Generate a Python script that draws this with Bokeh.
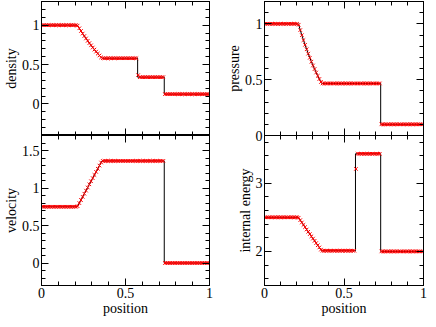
from bokeh.plotting import figure
from bokeh.layouts import row, column
from bokeh.models import Range1d, LinearAxis, SingleIntervalTicker, CustomJSTickFormatter
from bokeh.embed import file_html
from bokeh.resources import INLINE

# ---- data ----
cell_x = [0.005, 0.015, 0.025, 0.035, 0.045, 0.055, 0.065, 0.075, 0.085, 0.095,
          0.105, 0.115, 0.125, 0.135, 0.145, 0.155, 0.165, 0.175, 0.185, 0.195,
          0.205, 0.215, 0.225, 0.235, 0.245, 0.255, 0.265, 0.275, 0.285, 0.295,
          0.305, 0.315, 0.325, 0.335, 0.345, 0.355, 0.365, 0.375, 0.385, 0.395,
          0.405, 0.415, 0.425, 0.435, 0.445, 0.455, 0.465, 0.475, 0.485, 0.495,
          0.505, 0.515, 0.525, 0.535, 0.545, 0.555, 0.565, 0.575, 0.585, 0.595,
          0.605, 0.615, 0.625, 0.635, 0.645, 0.655, 0.665, 0.675, 0.685, 0.695,
          0.705, 0.715, 0.725, 0.735, 0.745, 0.755, 0.765, 0.775, 0.785, 0.795,
          0.805, 0.815, 0.825, 0.835, 0.845, 0.855, 0.865, 0.875, 0.885, 0.895,
          0.905, 0.915, 0.925, 0.935, 0.945, 0.955, 0.965, 0.975, 0.985, 0.995]

fan_density = [0.994, 0.960, 0.926, 0.893, 0.862, 0.831, 0.801, 0.772, 0.744, 0.716,
               0.690, 0.664, 0.639, 0.615, 0.591]
fan_velocity = [0.757, 0.799, 0.840, 0.882, 0.924, 0.965, 1.007, 1.049, 1.090, 1.132,
                1.174, 1.215, 1.257, 1.299, 1.340]
fan_pressure = [0.992, 0.944, 0.898, 0.854, 0.812, 0.772, 0.733, 0.696, 0.661, 0.627,
                0.595, 0.564, 0.534, 0.506, 0.479]
fan_energy = [2.494, 2.459, 2.424, 2.389, 2.356, 2.321, 2.288, 2.254, 2.221, 2.188,
              2.155, 2.122, 2.090, 2.058, 2.026]
fan_x = cell_x[21:36]

# numerical (red crosses), one value per cell
density = [1.0] * 21 + fan_density + [0.580] * 21 + [0.365] + [0.340] * 15 + [0.125] * 27
velocity = [0.75] * 21 + fan_velocity + [1.361] * 37 + [0.0] * 27
pressure = [1.0] * 21 + fan_pressure + [0.466] * 37 + [0.1] * 27
energy = [2.5] * 21 + fan_energy + [2.010] * 21 + [3.21] + [3.432] * 15 + [2.0] * 27

# exact solution (black line)
exact_x = [0.0, 0.2134] + fan_x + [0.3600, 0.5722, 0.5722, 0.7307, 0.7307, 1.0]
density_exact = [1.0, 1.0] + fan_density + [0.580, 0.580, 0.340, 0.340, 0.125, 0.125]
velocity_exact = [0.75, 0.75] + fan_velocity + [1.361, 1.361, 1.361, 1.361, 0.0, 0.0]
pressure_exact = [1.0, 1.0] + fan_pressure + [0.466, 0.466, 0.466, 0.466, 0.1, 0.1]
energy_exact = [2.5, 2.5] + fan_energy + [2.010, 2.010, 3.432, 3.432, 2.0, 2.0]

x_title = "position"
FONT = "Liberation Serif"
TICK_SIZE = "14px"
LABEL_SIZE = "14px"
PLAIN = "return String(Number(tick.toFixed(3)))"

OVERLAP = 8  # room below the pressure panel for its "0" label, covered by the panel below


def add_axis(p, side, interval, labels=False, title=None):
    ax = LinearAxis(ticker=SingleIntervalTicker(interval=interval, num_minor_ticks=5),
                    major_tick_in=7, major_tick_out=0, minor_tick_in=4, minor_tick_out=0,
                    axis_line_color="black", axis_line_width=1,
                    major_tick_line_color="black", minor_tick_line_color="black")
    if labels:
        ax.formatter = CustomJSTickFormatter(code=PLAIN)
        ax.major_label_text_font = FONT
        ax.major_label_text_font_size = TICK_SIZE
        ax.major_label_text_color = "black"
        ax.major_label_standoff = 2
    else:
        ax.major_label_text_color = None
        ax.major_label_standoff = 0
    if title:
        ax.axis_label = title
        ax.axis_label_text_font = FONT
        ax.axis_label_text_font_size = LABEL_SIZE
        ax.axis_label_text_font_style = "normal"
        ax.axis_label_text_color = "black"
        ax.axis_label_standoff = 0
    p.add_layout(ax, side)


def panel(yr, yint, ytitle, yvals, yexact, top, left_col, extra_bottom=0):
    if left_col:
        w, bl, br = 223, 35, 14
    else:
        w, bl, br = 205, 35, 5
    if top:
        h, bt, bb = 135 + extra_bottom, 1, extra_bottom
    else:
        h, bt, bb = 183, 0, 33
    p = figure(width=w, height=h, x_range=Range1d(0, 1), y_range=Range1d(*yr),
               x_axis_location=None, y_axis_location=None,
               toolbar_location=None, output_backend="svg",
               min_border_left=bl, min_border_right=br,
               min_border_top=bt, min_border_bottom=bb)
    for g in p.grid:
        g.visible = False
    p.outline_line_color = "black"
    p.background_fill_color = "white"
    p.border_fill_color = "white"
    add_axis(p, "left", yint, labels=True, title=ytitle)
    add_axis(p, "right", yint)
    add_axis(p, "above", 0.5)
    if top:
        add_axis(p, "below", 0.5)
    else:
        add_axis(p, "below", 0.5, labels=True, title=x_title)
    p.line(exact_x, yexact, line_color="black", line_width=1)
    p.scatter(cell_x, yvals, marker="x", size=5, line_color="red", line_width=1)
    return p


p1 = panel((-0.4, 1.3), 0.5, "density", density, density_exact, True, True)
p2 = panel((0.0, 1.2), 0.5, "pressure", pressure, pressure_exact, True, False,
           extra_bottom=OVERLAP)
p3 = panel((-0.3, 1.7), 0.5, "velocity", velocity, velocity_exact, False, True)
p4 = panel((1.5, 3.7), 1.0, "internal energy", energy, energy_exact, False, False)
# the energy panel slides up over the extra strip; its border is see-through
p4.border_fill_color = None
p4.margin = (-OVERLAP, 0, 0, 0)

layout = row(column(p1, p3, spacing=0), column(p2, p4, spacing=0), spacing=0)

open("out.html", "w").write(file_html(layout, INLINE))
